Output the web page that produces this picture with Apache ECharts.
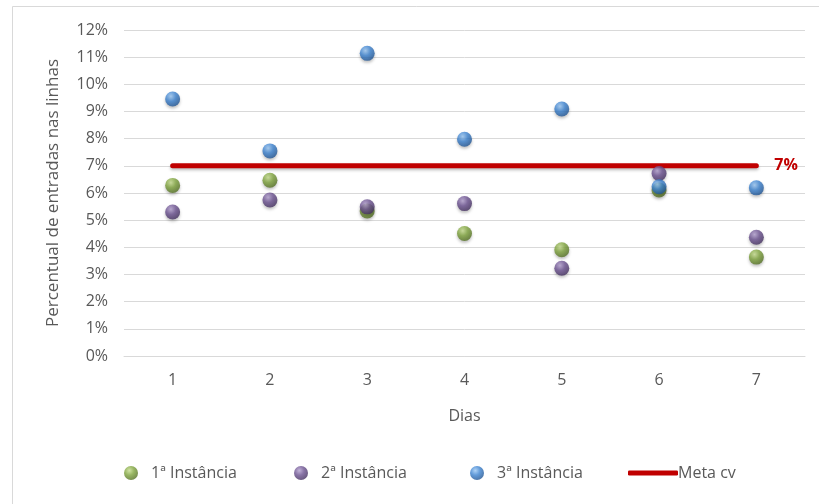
<!DOCTYPE html>
<html>
<head>
<meta charset="utf-8">
<script src="https://cdn.jsdelivr.net/npm/echarts@6/dist/echarts.min.js"></script>
<style>html,body{margin:0;padding:0;background:#fff}#c{width:819px;height:504px}</style>
</head>
<body>
<div id="c"></div>
<script>
var categories = ['1', '2', '3', '4', '5', '6', '7'];
var inst1 = [0.0628, 0.0647, 0.0534, 0.0451, 0.0391, 0.0611, 0.0364];
var inst2 = [0.0530, 0.0574, 0.0549, 0.0561, 0.0323, 0.0672, 0.0437];
var inst3 = [0.0946, 0.0755, 0.1114, 0.0798, 0.0909, 0.0623, 0.0619];
var meta = [0.07, 0.07, 0.07, 0.07, 0.07, 0.07, 0.07];
var yTicks = [0, 0.01, 0.02, 0.03, 0.04, 0.05, 0.06, 0.07, 0.08, 0.09, 0.10, 0.11, 0.12];
var seriesNames = ['1ª Instância', '2ª Instância', '3ª Instância', 'Meta cv'];

function sphere(light, base, dark) {
  return new echarts.graphic.RadialGradient(0.38, 0.32, 0.75, [
    {offset: 0, color: light},
    {offset: 0.45, color: base},
    {offset: 1, color: dark}
  ]);
}
var greenFill = sphere('#c6dd8e', '#7ea33c', '#4f6a20');
var purpleFill = sphere('#b3a0cf', '#6b5190', '#3f2c5a');
var blueFill = sphere('#9cc8f4', '#3b82d0', '#1d4f8c');

var font = 'Open Sans';
var gray = '#595959';
var chart = echarts.init(document.getElementById('c'), null, {renderer: 'canvas'});

function scatter(name, data, fill) {
  return {
    name: name, type: 'scatter', data: data, symbol: 'circle', symbolSize: 15, z: 3,
    itemStyle: {color: fill, shadowColor: 'rgba(0,0,0,0.3)', shadowBlur: 3, shadowOffsetY: 2}
  };
}
function legendItem(name, left, icon, w, h) {
  return {
    data: [{name: name, icon: icon}], left: left, top: 460, itemWidth: w, itemHeight: h, itemGap: 0,
    textStyle: {fontFamily: font, fontSize: 16, color: gray, padding: [0, 0, 0, icon === 'circle' ? 8 : -5]},
    selectedMode: false
  };
}

chart.setOption({
  animation: false,
  backgroundColor: '#fff',
  graphic: [{
    type: 'rect', left: 10, top: 4, shape: {width: 900, height: 600},
    style: {fill: 'none', stroke: '#d9d9d9', lineWidth: 1}, silent: true, z: -1
  }],
  grid: {left: 124, right: 14, top: 30, bottom: 148},
  legend: [
    legendItem(seriesNames[0], 119, 'circle', 14, 14),
    legendItem(seriesNames[1], 289, 'circle', 14, 14),
    legendItem(seriesNames[2], 465, 'circle', 14, 14),
    legendItem(seriesNames[3], 623, 'roundRect', 50, 5)
  ],
  xAxis: {
    type: 'category', data: categories, boundaryGap: true,
    name: 'Dias', nameLocation: 'middle', nameGap: 52,
    nameTextStyle: {fontFamily: font, fontSize: 16, color: gray},
    axisLine: {lineStyle: {color: '#d9d9d9'}}, axisTick: {show: false},
    axisLabel: {fontFamily: font, fontSize: 16, color: gray, margin: 16}
  },
  yAxis: {
    type: 'value', min: yTicks[0], max: yTicks[yTicks.length - 1], interval: 0.01,
    name: 'Percentual de entradas nas linhas', nameLocation: 'middle', nameGap: 62,
    nameTextStyle: {fontFamily: font, fontSize: 17, color: gray},
    axisLine: {show: false}, axisTick: {show: false},
    splitLine: {lineStyle: {color: '#d9d9d9', width: 1}},
    axisLabel: {fontFamily: font, fontSize: 16, color: gray, margin: 16,
      formatter: function (v) { return Math.round(v * 100) + '%'; }}
  },
  series: [
    {
      name: seriesNames[3], type: 'line', data: meta, symbol: 'none', z: 2,
      lineStyle: {color: '#c00000', width: 5, cap: 'round', shadowColor: 'rgba(0,0,0,0.25)', shadowBlur: 3, shadowOffsetY: 2},
      itemStyle: {color: '#c00000'},
      endLabel: {show: true, formatter: '7%', color: '#c00000', fontFamily: font, fontSize: 16, fontWeight: 'bold', distance: 18}
    },
    scatter(seriesNames[0], inst1, greenFill),
    scatter(seriesNames[1], inst2, purpleFill),
    scatter(seriesNames[2], inst3, blueFill)
  ]
});
</script>
</body>
</html>
